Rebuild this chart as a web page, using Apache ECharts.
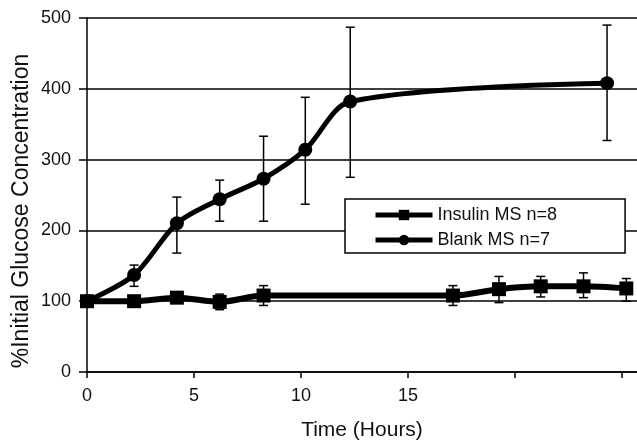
<!DOCTYPE html>
<html>
<head>
<meta charset="utf-8">
<script src="https://cdn.jsdelivr.net/npm/echarts@6/dist/echarts.min.js"></script>
<style>
  html, body { margin: 0; padding: 0; background: #fff; }
  #chart { width: 637px; height: 446px; }
</style>
</head>
<body>
<div id="chart"></div>
<script>
// time points (hours) and % initial glucose
var insulinHours = [0, 2.2, 4.2, 6.2, 8.25, 17.1, 19.25, 21.2, 23.2, 25.2];
var insulinValues = [100, 100, 105, 99, 108, 108, 117, 121, 121, 118];
var insulinLow = [100, 96, 99, 88, 94, 94, 98, 106, 105, 100];
var insulinHigh = [100, 104, 111, 110, 122, 122, 135, 135, 140, 132];

var blankHours = [0, 2.2, 4.2, 6.2, 8.25, 10.2, 12.3, 24.3];
var blankValues = [100, 137, 210, 244, 273, 314, 382, 408];
var blankLow = [100, 121, 168, 213, 213, 237, 275, 327];
var blankHigh = [100, 151, 247, 271, 333, 388, 487, 490];

var seriesNames = ['Insulin MS n=8', 'Blank MS n=7'];
var xTicks = [0, 5, 10, 15, 20, 25];
var xTickLabels = [0, 5, 10, 15];

var font = '"Liberation Sans", Arial, sans-serif';

function pairs(xs, ys) {
    return xs.map(function (x, i) { return [x, ys[i]]; });
}

function bars(xs, lo, hi) {
    return xs.map(function (x, i) { return [x, lo[i], hi[i]]; });
}

// error bar with small caps, drawn through the axis scales
function renderErrorBar(params, api) {
    var x = api.value(0);
    var lo = api.coord([x, api.value(1)]);
    var hi = api.coord([x, api.value(2)]);
    var cap = 4.5;
    var style = { stroke: '#000', lineWidth: 1.5, fill: null };
    return {
        type: 'group',
        children: [
            { type: 'line', shape: { x1: hi[0], y1: hi[1], x2: lo[0], y2: lo[1] }, style: style },
            { type: 'line', shape: { x1: hi[0] - cap, y1: hi[1], x2: hi[0] + cap, y2: hi[1] }, style: style },
            { type: 'line', shape: { x1: lo[0] - cap, y1: lo[1], x2: lo[0] + cap, y2: lo[1] }, style: style }
        ]
    };
}

var chart = echarts.init(document.getElementById('chart'));

var option = {
    animation: false,
    backgroundColor: '#fff',
    textStyle: { fontFamily: font, color: '#111' },
    grid: { left: 87, right: 0, top: 18, bottom: 65, containLabel: false },
    legend: {
        data: seriesNames,
        orient: 'vertical',
        left: 345,
        top: 199,
        padding: [7, 68, 4, 28],
        itemGap: 7,
        itemWidth: 57,
        itemHeight: 13,
        backgroundColor: '#fff',
        borderColor: '#000',
        borderWidth: 1.5,
        borderRadius: 0,
        lineStyle: { width: 5, color: '#000' },
        textStyle: { fontFamily: font, fontSize: 18, color: '#111' }
    },
    xAxis: {
        type: 'value',
        min: 0,
        max: 25.7,
        name: 'Time (Hours)',
        nameLocation: 'middle',
        nameGap: 48,
        nameTextStyle: { fontFamily: font, fontSize: 21, color: '#111' },
        axisLine: { onZero: false, lineStyle: { color: '#000', width: 1.5 } },
        axisTick: { length: 6, customValues: xTicks, lineStyle: { color: '#000', width: 1.5 } },
        axisLabel: { fontSize: 18, color: '#111', margin: 15, customValues: xTickLabels },
        splitLine: { show: false }
    },
    yAxis: {
        type: 'value',
        min: 0,
        max: 500,
        interval: 100,
        axisLine: { show: true, lineStyle: { color: '#000', width: 1.5 } },
        axisTick: { show: true, length: 8, lineStyle: { color: '#000', width: 1.5 } },
        axisLabel: { fontSize: 18, color: '#111', margin: 16 },
        splitLine: { lineStyle: { color: '#000', width: 1.5 } }
    },
    graphic: [{
        type: 'text',
        x: 22,
        y: 211,
        rotation: Math.PI / 2,
        style: {
            text: '%Initial Glucose Concentration',
            font: '23px ' + font,
            fill: '#111',
            textAlign: 'center',
            textVerticalAlign: 'middle'
        }
    }],
    series: [
        {
            type: 'custom',
            renderItem: renderErrorBar,
            data: bars(insulinHours, insulinLow, insulinHigh),
            silent: true,
            z: 1
        },
        {
            type: 'custom',
            renderItem: renderErrorBar,
            data: bars(blankHours, blankLow, blankHigh),
            silent: true,
            z: 1
        },
        {
            name: seriesNames[0],
            type: 'line',
            data: pairs(insulinHours, insulinValues),
            smooth: 0.3,
            symbol: 'rect',
            symbolSize: 14,
            lineStyle: { color: '#000', width: 6 },
            itemStyle: { color: '#000' },
            z: 3
        },
        {
            name: seriesNames[1],
            type: 'line',
            data: pairs(blankHours, blankValues),
            smooth: 0.3,
            symbol: 'circle',
            symbolSize: 14,
            lineStyle: { color: '#000', width: 5 },
            itemStyle: { color: '#000' },
            z: 3
        }
    ]
};

chart.setOption(option);
</script>
</body>
</html>
